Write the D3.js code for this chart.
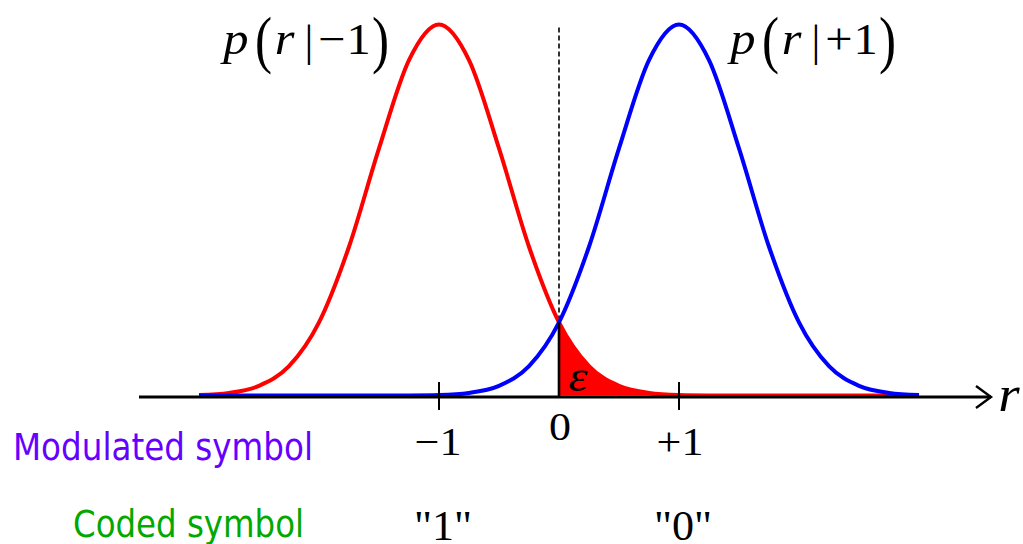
<!DOCTYPE html>
<html>
<head>
<meta charset="utf-8">
<script src="https://cdn.jsdelivr.net/npm/d3@7"></script>
<style>
  html, body { margin: 0; padding: 0; background: #fff; }
  svg { display: block; }
</style>
</head>
<body>
<svg id="chart" width="1023" height="544"></svg>
<script>
// Received-signal grid r and the two conditional densities (peak-normalised)
const rGrid = [-3, -2.75, -2.5, -2.25, -2, -1.75, -1.5, -1.25, -1, -0.75, -0.5, -0.25,
               0, 0.25, 0.5, 0.75, 1, 1.25, 1.5, 1.75, 2, 2.25, 2.5, 2.75, 3];
const redDensity  = [0.0015, 0.007, 0.026, 0.079, 0.197, 0.401, 0.666, 0.904, 1, 0.904, 0.666, 0.401,
                     0.197, 0.079, 0.026, 0.007, 0.0015, 0.0003, 0, 0, 0, 0, 0, 0, 0];
const blueDensity = [0, 0, 0, 0, 0, 0, 0, 0.0003, 0.0015, 0.007, 0.026, 0.079,
                     0.197, 0.401, 0.666, 0.904, 1, 0.904, 0.666, 0.401, 0.197, 0.079, 0.026, 0.007, 0.0015];

// Axis tick positions and their labels
const tickValues = [-1, 0, 1];
const tickLabels = ["\u22121", "0", "+1"];
const symbolValues = [-1, 1];
const codedLabels = ["\"1\"", "\"0\""];
const densitySigns = ["\u2212", "+"];

const svg = d3.select("#chart");
const x = d3.scaleLinear().domain([-1, 1]).range([439, 679]);
const y = d3.scaleLinear().domain([0, 1]).range([395.5, 24.5]);
const axisY = 397;

const redPts = rGrid.map((r, i) => ({ r, v: redDensity[i] }));
const bluePts = rGrid.map((r, i) => ({ r, v: blueDensity[i] }));

const line = d3.line().x(d => x(d.r)).y(d => y(d.v)).curve(d3.curveMonotoneX);
const area = d3.area().x(d => x(d.r)).y0(y(0)).y1(d => y(d.v)).curve(d3.curveMonotoneX);

// Decision threshold (dashed) at r = 0
svg.append("line")
  .attr("x1", x(0)).attr("x2", x(0))
  .attr("y1", y(1) + 3).attr("y2", axisY)
  .attr("stroke", "#000").attr("stroke-width", 1.6)
  .attr("stroke-dasharray", "5,3");

// Error region: tail of p(r|-1) beyond the threshold
svg.append("path")
  .datum(redPts.filter(d => d.r >= 0))
  .attr("d", area)
  .attr("fill", "#ff0000");

svg.append("path").datum(redPts).attr("d", line)
  .attr("fill", "none").attr("stroke", "#ff0000").attr("stroke-width", 4);
svg.append("path").datum(bluePts).attr("d", line)
  .attr("fill", "none").attr("stroke", "#0000ff").attr("stroke-width", 4);

// Solid edge of the error region
svg.append("line")
  .attr("x1", x(0)).attr("x2", x(0))
  .attr("y1", y(redDensity[rGrid.indexOf(0)])).attr("y2", axisY)
  .attr("stroke", "#000").attr("stroke-width", 2.6);

// Horizontal r axis with arrow
const axisEnd = x(3.6);
svg.append("line")
  .attr("x1", x(-3.5)).attr("x2", axisEnd)
  .attr("y1", axisY).attr("y2", axisY)
  .attr("stroke", "#000").attr("stroke-width", 3);
svg.append("path")
  .attr("d", `M${axisEnd - 15},${axisY - 11} L${axisEnd},${axisY} L${axisEnd - 15},${axisY + 11}`)
  .attr("fill", "none").attr("stroke", "#000").attr("stroke-width", 2.4);

// Tick marks at the modulated symbol values
svg.selectAll(".tick").data(symbolValues).enter().append("line")
  .attr("x1", d => x(d)).attr("x2", d => x(d))
  .attr("y1", axisY - 15).attr("y2", axisY + 13)
  .attr("stroke", "#000").attr("stroke-width", 2);

const serif = "Liberation Serif";

function stretchedText(g, txt, cx, base, size, sx, italic) {
  g.append("text")
    .attr("transform", `translate(${cx},${base}) scale(${sx},1)`)
    .attr("text-anchor", "middle")
    .style("font-family", serif)
    .style("font-size", size + "px")
    .style("font-style", italic ? "italic" : "normal")
    .attr("fill", "#000")
    .text(txt);
}

// Tick labels
tickValues.forEach((v, i) => {
  const base = v === 0 ? 440 : 455;
  stretchedText(svg, tickLabels[i], x(v) + (v === -1 ? -1 : 1), base, 40, 1.1, false);
});

// Coded symbol labels
symbolValues.forEach((v, i) => {
  stretchedText(svg, codedLabels[i], x(v) + 4, 540, 42, 1.05, false);
});

// Axis name and error probability
stretchedText(svg, "r", axisEnd + 18, 411, 50, 1.1, true);
stretchedText(svg, "\u03B5", x(0) + 19, 391, 44, 1.1, true);

// Density labels p(r | ±1)
symbolValues.forEach((v, i) => {
  const cx = x(v) + (v < 0 ? -133.5 : 133.5);
  const glyphs = [
    { t: "p", dx: -69.5, it: true, size: 46, dy: 0, sx: 1.1 },
    { t: "(", dx: -42, it: false, size: 64, dy: 7, sx: 0.8 },
    { t: "r", dx: -21, it: true, size: 46, dy: 0, sx: 1.1 },
    { t: "|", dx: 3.5, it: false, size: 44, dy: 2, sx: 1.0 },
    { t: densitySigns[i], dx: 26.5, it: false, size: 44, dy: 0, sx: 1.1 },
    { t: "1", dx: 53, it: false, size: 44, dy: 0, sx: 1.1 },
    { t: ")", dx: 75, it: false, size: 64, dy: 7, sx: 0.8 }
  ];
  glyphs.forEach(gph => stretchedText(svg, gph.t, cx + gph.dx, 54 + gph.dy, gph.size, gph.sx, gph.it));
});

// Row captions
const sans = "'DejaVu Sans Condensed', 'DejaVu Sans', sans-serif";
svg.append("text")
  .attr("x", 13).attr("y", 460)
  .style("font-family", sans).style("font-size", "37px")
  .attr("textLength", 300).attr("lengthAdjust", "spacingAndGlyphs")
  .attr("fill", "#6600ff")
  .text("Modulated symbol");
svg.append("text")
  .attr("x", 73).attr("y", 537)
  .style("font-family", sans).style("font-size", "37px")
  .attr("textLength", 231).attr("lengthAdjust", "spacingAndGlyphs")
  .attr("fill", "#00a800")
  .text("Coded symbol");
</script>
</body>
</html>
